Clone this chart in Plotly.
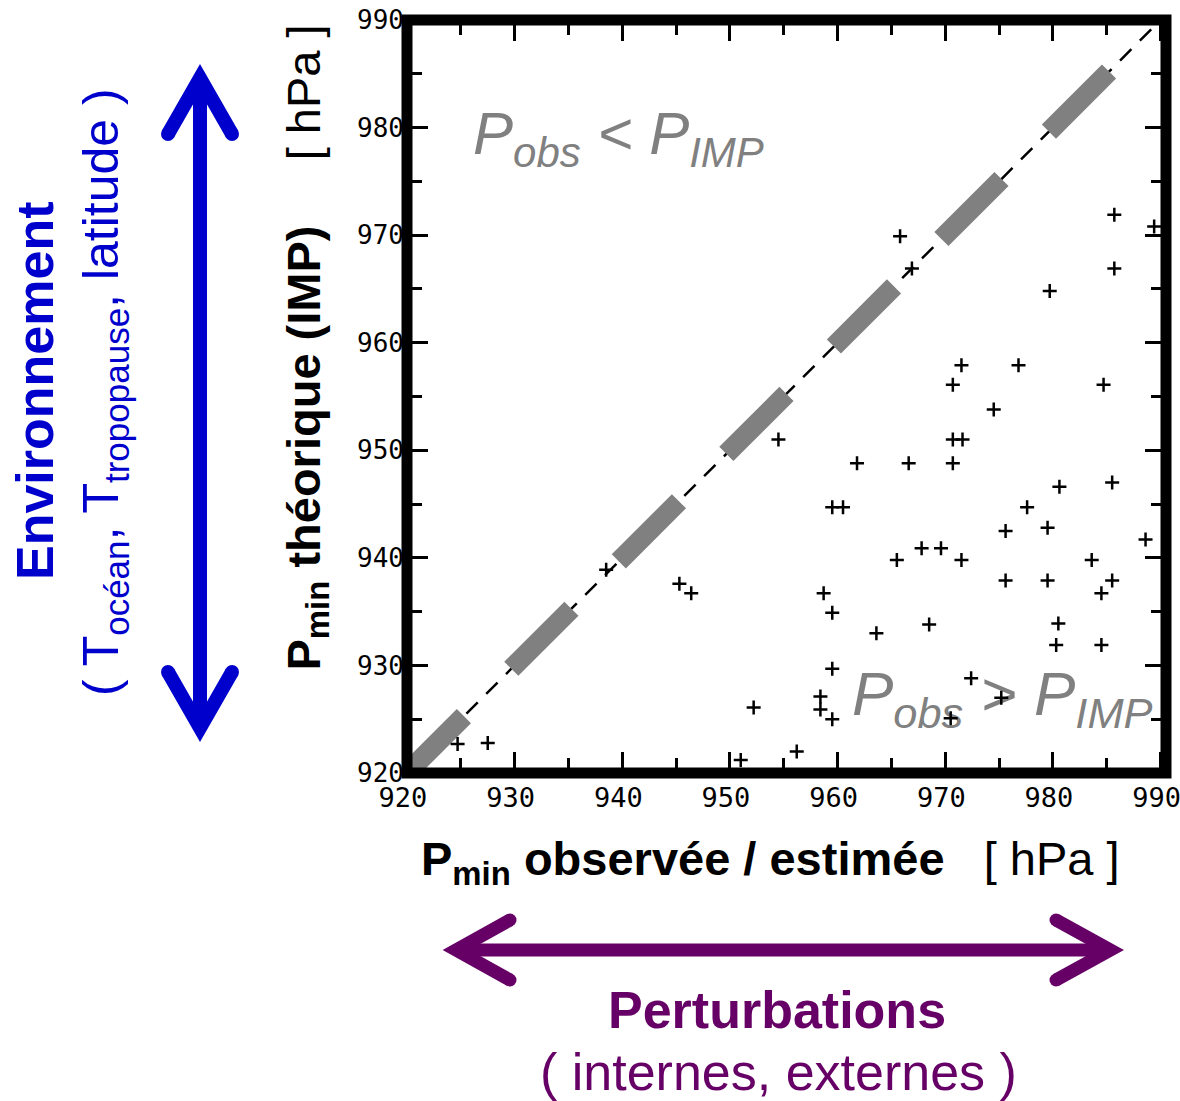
import plotly.graph_objects as go

# ---- data: minimum pressure, observed/estimated vs. theoretical (IMP), hPa ----
p_obs = [965.8, 966.9, 985.7, 989.4, 985.7, 979.7, 971.5, 976.8, 970.7, 984.7,
         974.5, 954.5, 970.7, 971.6, 961.8, 966.6, 970.7, 980.6, 985.5, 959.5,
         960.5, 977.6, 975.6, 979.5, 988.6, 965.5, 967.8, 969.6, 971.5, 983.6,
         975.6, 979.5, 985.5, 946.4, 945.3, 958.7, 984.5, 959.5, 963.6, 968.5,
         980.5, 980.3, 984.5, 959.5, 972.4, 958.4, 958.4, 959.5, 952.2, 975.2,
         970.5, 951.0, 956.2, 927.5, 924.7, 938.5]
p_imp = [969.9, 966.9, 971.9, 970.8, 966.9, 964.8, 957.9, 957.9, 956.1, 956.1,
         953.8, 951.0, 951.0, 951.0, 948.8, 948.8, 948.8, 946.6, 947.0, 944.7,
         944.7, 944.7, 942.5, 942.8, 941.7, 939.8, 940.9, 940.9, 939.8, 939.8,
         937.9, 937.9, 937.9, 936.7, 937.6, 936.7, 936.7, 934.9, 933.0, 933.8,
         933.9, 931.9, 931.9, 929.7, 928.8, 927.1, 925.9, 925.0, 926.1, 927.0,
         925.1, 921.2, 922.0, 922.8, 922.7, 938.9]

# 1:1 reference line
diag_full = [920, 990]
diag_dashed = [919.7, 985.3]

tick_vals = [920, 930, 940, 950, 960, 970, 980, 990]
tick_text = ["920", "930", "940", "950", "960", "970", "980", "990"]

# ---- page geometry (pixels) ----
W_FIG, H_FIG = 1180, 1101
L, T = 407, 20
PW, PH = 759, 753
R = W_FIG - L - PW
B = H_FIG - T - PH
X_RANGE = [920, 990.5]
Y_RANGE = [920, 990]

BLUE = "#0000CC"
PURPLE = "#660066"
GRAY = "#808080"
SANS = "Liberation Sans, Arial, sans-serif"


def px(X):
    return (X - L) / PW


def py(Y):
    return (T + PH - Y) / PH


def pt(X, Y):
    return f"{px(X):.5f},{py(Y):.5f}"


def data_x(X):
    return X_RANGE[0] + px(X) * (X_RANGE[1] - X_RANGE[0])


def data_y(Y):
    return Y_RANGE[0] + py(Y) * (Y_RANGE[1] - Y_RANGE[0])


fig = go.Figure()

# thin black dashed 1:1 line
fig.add_trace(go.Scatter(
    x=diag_full, y=diag_full, mode="lines",
    line=dict(color="black", width=2.5, dash="16px,12px"),
    hoverinfo="skip"))

# thick grey dashed 1:1 line
fig.add_trace(go.Scatter(
    x=diag_dashed, y=diag_dashed, mode="lines",
    line=dict(color=GRAY, width=20, dash="85px,67px"),
    hoverinfo="skip"))

# grey region labels (drawn beneath the points)
fig.add_trace(go.Scatter(
    x=[data_x(473)], y=[data_y(139)],
    mode="text", text=["<i>P<sub>obs</sub> &lt; P<sub>IMP</sub></i>"],
    textposition="middle right",
    textfont=dict(family=SANS, size=60, color=GRAY), hoverinfo="skip"))
fig.add_trace(go.Scatter(
    x=[data_x(852)], y=[data_y(699)],
    mode="text", text=["<i>P<sub>obs</sub> &gt; P<sub>IMP</sub></i>"],
    textposition="middle right",
    textfont=dict(family=SANS, size=62, color=GRAY), hoverinfo="skip"))

# observations
fig.add_trace(go.Scatter(
    x=p_obs, y=p_imp, mode="markers",
    marker=dict(symbol="cross-thin", size=10, color="black",
                line=dict(width=2.5, color="black")),
    hoverinfo="skip"))

axis_common = dict(
    showgrid=False, zeroline=False, showline=False, automargin=False,
    ticks="inside", ticklen=21, tickwidth=3, tickcolor="black",
    mirror="ticks", ticklabeloverflow="allow",
    tickmode="array", tickvals=tick_vals, ticktext=tick_text,
    minor=dict(ticks="inside", ticklen=15, tickwidth=3, tickcolor="black",
               dtick=5, tick0=920, showgrid=False),
)

fig.update_xaxes(range=X_RANGE, **axis_common,
                 tickfont=dict(family="DejaVu Sans Mono", size=27, color="black"),
                 ticklabelstandoff=6, ticklabelshift=-4)
fig.update_yaxes(range=Y_RANGE, **axis_common,
                 tickfont=dict(family="DejaVu Sans Mono", size=26, color="black"),
                 ticklabelstandoff=2)

shapes = []
# heavy frame around the plotting area
shapes.append(dict(type="rect", xref="paper", yref="paper", x0=0, x1=1, y0=0, y1=1,
                   line=dict(color="black", width=11), layer="above"))


def double_arrow(color, width, shaft, heads, caps):
    out = []
    (x0, y0), (x1, y1) = shaft
    out.append(dict(type="line", xref="paper", yref="paper",
                    x0=px(x0), y0=py(y0), x1=px(x1), y1=py(y1),
                    line=dict(color=color, width=width)))
    for a, v, b in heads:
        out.append(dict(type="path", xref="paper", yref="paper",
                        path=f"M{pt(*a)} L{pt(*v)} L{pt(*b)}",
                        line=dict(color=color, width=width),
                        fillcolor="rgba(0,0,0,0)"))
    r = width / 2
    for cx, cy in caps:
        out.append(dict(type="circle", xref="paper", yref="paper",
                        x0=px(cx - r), x1=px(cx + r), y0=py(cy + r), y1=py(cy - r),
                        fillcolor=color, line=dict(width=0)))
    return out


# vertical arrow: environment
shapes += double_arrow(
    BLUE, 14,
    ((200, 78), (200, 728)),
    [((168, 134), (200, 78), (232, 134)), ((168, 672), (200, 728), (232, 672))],
    [(168, 134), (232, 134), (168, 672), (232, 672)])

# horizontal arrow: perturbations
shapes += double_arrow(
    PURPLE, 13,
    ((456, 950), (1110.5, 950)),
    [((510, 920), (456, 950), (510, 980)), ((1056, 920), (1110.5, 950), (1056, 980))],
    [(510, 920), (510, 980), (1056, 920), (1056, 980)])


def label(X, Y, text, size, color="black", angle=0):
    return dict(xref="paper", yref="paper", x=px(X), y=py(Y), text=text,
                showarrow=False, xanchor="center", yanchor="middle",
                textangle=angle, font=dict(family=SANS, size=size, color=color))


annotations = [
    label(307, 347.5,
          "<b>P<sub>min</sub> théorique (IMP)</b>&nbsp;&nbsp;&nbsp;&nbsp;&nbsp;[ hPa ]",
          47, angle=-90),
    label(770.5, 862,
          "<b>P<sub>min</sub> observée / estimée</b>&nbsp;&nbsp;&nbsp;[ hPa ]",
          47),
    label(35, 391, "<b>Environnement</b>", 52, BLUE, -90),
    label(104, 392, "( T<sub>océan</sub>, T<sub>tropopause</sub>, latitude )", 50, BLUE, -90),
    label(776.5, 1010, "<b>Perturbations</b>", 52, PURPLE),
    label(778, 1072, "( internes, externes )", 52, PURPLE),
]

fig.update_layout(
    width=W_FIG, height=H_FIG, autosize=False,
    margin=dict(l=L, r=R, t=T, b=B, pad=0, autoexpand=False),
    plot_bgcolor="white", paper_bgcolor="white",
    showlegend=False,
    shapes=shapes, annotations=annotations,
)

fig.write_html("out.html")
